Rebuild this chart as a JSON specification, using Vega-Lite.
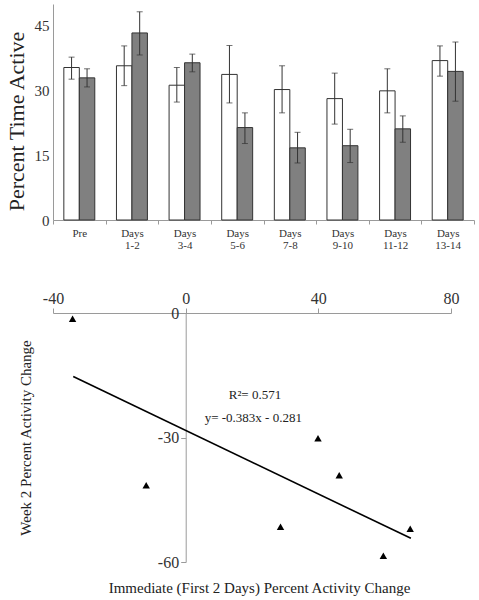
{
  "$schema": "https://vega.github.io/schema/vega-lite/v6.json",
  "padding": {"left": 5, "top": 4, "right": 5, "bottom": 5},
  "config": {
    "font": "Liberation Serif",
    "view": {"stroke": null},
    "text": {"font": "Liberation Serif"},
    "axis": {"grid": false, "domainColor": "#9a9a9a", "tickColor": "#9a9a9a", "labelColor": "#333", "titleColor": "#222", "labelFont": "Liberation Serif", "titleFont": "Liberation Serif", "titleFontWeight": "normal", "labelFontWeight": "normal"}
  },
  "spacing": 40,
  "vconcat": [
    {
      "width": 421,
      "height": 216,
      "data": {"values": [
        {"period": "Pre", "group": "A", "mean": 35.3, "lo": 32.6, "hi": 37.7},
        {"period": "Pre", "group": "B", "mean": 32.9, "lo": 30.8, "hi": 35.0},
        {"period": "Days 1-2", "group": "A", "mean": 35.7, "lo": 31.1, "hi": 40.3},
        {"period": "Days 1-2", "group": "B", "mean": 43.3, "lo": 38.2, "hi": 48.2},
        {"period": "Days 3-4", "group": "A", "mean": 31.2, "lo": 27.3, "hi": 35.3},
        {"period": "Days 3-4", "group": "B", "mean": 36.4, "lo": 34.3, "hi": 38.4},
        {"period": "Days 5-6", "group": "A", "mean": 33.7, "lo": 27.1, "hi": 40.4},
        {"period": "Days 5-6", "group": "B", "mean": 21.4, "lo": 17.7, "hi": 24.8},
        {"period": "Days 7-8", "group": "A", "mean": 30.2, "lo": 24.8, "hi": 35.7},
        {"period": "Days 7-8", "group": "B", "mean": 16.7, "lo": 13.2, "hi": 20.3},
        {"period": "Days 9-10", "group": "A", "mean": 28.1, "lo": 22.2, "hi": 34.0},
        {"period": "Days 9-10", "group": "B", "mean": 17.2, "lo": 13.3, "hi": 21.0},
        {"period": "Days 11-12", "group": "A", "mean": 29.9, "lo": 24.8, "hi": 35.0},
        {"period": "Days 11-12", "group": "B", "mean": 21.1, "lo": 18.0, "hi": 24.1},
        {"period": "Days 13-14", "group": "A", "mean": 36.9, "lo": 33.3, "hi": 40.3},
        {"period": "Days 13-14", "group": "B", "mean": 34.4, "lo": 27.5, "hi": 41.2}
      ]},
      "encoding": {
        "x": {"field": "period", "type": "nominal", "sort": ["Pre", "Days 1-2", "Days 3-4", "Days 5-6", "Days 7-8", "Days 9-10", "Days 11-12", "Days 13-14"],
          "scale": {"paddingInner": 0, "paddingOuter": 0},
          "axis": {"title": null, "labelAngle": 0, "labelFont": "Liberation Serif", "labelFontSize": 11, "labelExpr": "split(datum.label, ' ')", "labelLineHeight": 12, "tickBand": "extent", "tickSize": 4, "labelPadding": 3}},
        "xOffset": {"field": "group", "type": "nominal", "scale": {"paddingInner": 0, "paddingOuter": 0.7}}
      },
      "layer": [
        {
          "mark": {"type": "bar", "stroke": "#333", "strokeWidth": 1},
          "encoding": {
            "y": {"field": "mean", "type": "quantitative", "title": "Percent Time Active", "scale": {"domain": [0, 50], "nice": false},
              "axis": {"values": [0, 15, 30, 45], "labelFont": "Liberation Serif", "titleFont": "Liberation Serif", "labelFontSize": 15, "ticks": false, "labelPadding": 4, "titleFontSize": 22, "titlePadding": 6, "titleY": 117, "labelFlush": false}},
            "fill": {"field": "group", "type": "nominal", "scale": {"domain": ["A", "B"], "range": ["#ffffff", "#808080"]}, "legend": null}
          }
        },
        {
          "mark": {"type": "rule", "color": "#333", "strokeWidth": 1},
          "encoding": {"y": {"field": "lo", "type": "quantitative", "title": "Percent Time Active"}, "y2": {"field": "hi"}}
        },
        {
          "mark": {"type": "tick", "color": "#333", "size": 6, "thickness": 1},
          "encoding": {"y": {"field": "lo", "type": "quantitative", "title": "Percent Time Active"}}
        },
        {
          "mark": {"type": "tick", "color": "#333", "size": 6, "thickness": 1},
          "encoding": {"y": {"field": "hi", "type": "quantitative", "title": "Percent Time Active"}}
        }
      ]
    },
    {
      "width": 398,
      "height": 249,
      "layer": [
        {
          "data": {"values": [
            {"immediate": -34.1, "week2": -1.4},
            {"immediate": -11.9, "week2": -41.5},
            {"immediate": 28.6, "week2": -51.5},
            {"immediate": 39.9, "week2": -30.2},
            {"immediate": 46.3, "week2": -39.1},
            {"immediate": 59.6, "week2": -58.5},
            {"immediate": 67.7, "week2": -52.0}
          ]},
          "mark": {"type": "point", "shape": "triangle-up", "filled": true, "color": "#000", "size": 55, "opacity": 1},
          "encoding": {
            "x": {"field": "immediate", "type": "quantitative", "title": "Immediate (First 2 Days) Percent Activity Change", "scale": {"domain": [-40, 80], "nice": false},
              "axis": {"orient": "top", "values": [-40, 0, 40, 80], "labelExpr": "'' + datum.value", "labelFlush": false, "labelFont": "Liberation Serif", "titleFont": "Liberation Serif", "labelFontSize": 16, "tickSize": 5, "labelPadding": 2, "titleFontSize": 15, "titleX": 206, "titleY": 282}},
            "y": {"field": "week2", "type": "quantitative", "title": "Week 2 Percent Activity Change", "scale": {"domain": [-60, 0], "nice": false},
              "axis": {"orient": "left", "offset": -132.7, "values": [0, -30, -60], "labelExpr": "'' + datum.value", "labelFlush": false, "labelFont": "Liberation Serif", "titleFont": "Liberation Serif", "labelFontSize": 16, "tickSize": 5, "labelPadding": 2, "titleFontSize": 15, "titleX": -152}}
          }
        },
        {
          "data": {"values": [
            {"immediate": -33.9, "week2": -15.3},
            {"immediate": 67.9, "week2": -54.3}
          ]},
          "mark": {"type": "line", "color": "#000", "strokeWidth": 1.6},
          "encoding": {
            "x": {"field": "immediate", "type": "quantitative", "title": "Immediate (First 2 Days) Percent Activity Change"},
            "y": {"field": "week2", "type": "quantitative", "title": "Week 2 Percent Activity Change"}
          }
        },
        {
          "data": {"values": [
            {"immediate": 20.9, "week2": -19.8, "label": "R²= 0.571"},
            {"immediate": 20.4, "week2": -25.3, "label": "y= -0.383x - 0.281"}
          ]},
          "mark": {"type": "text", "fontSize": 13, "color": "#222", "font": "Liberation Serif"},
          "encoding": {
            "x": {"field": "immediate", "type": "quantitative", "title": "Immediate (First 2 Days) Percent Activity Change"},
            "y": {"field": "week2", "type": "quantitative", "title": "Week 2 Percent Activity Change"},
            "text": {"field": "label"}
          }
        }
      ]
    }
  ]
}
